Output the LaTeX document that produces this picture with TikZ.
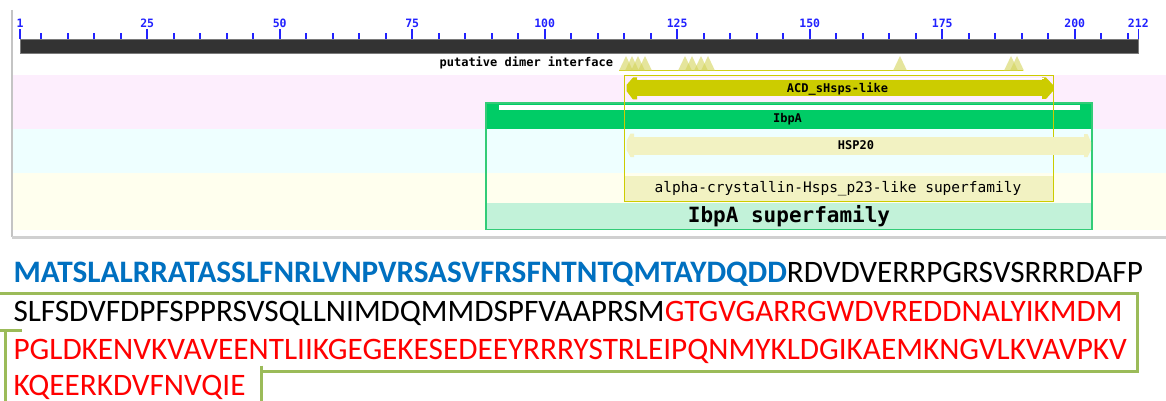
\documentclass[tikz,border=0pt]{standalone}
\usepackage{fontspec}
\newfontfamily\pixfont{DejaVu Sans Mono}
\newfontfamily\seqfont{Carlito}
\definecolor{tickblue}{HTML}{2222FF}
\definecolor{barfill}{HTML}{333333}
\definecolor{barline}{HTML}{7A7A7A}
\definecolor{bandpink}{HTML}{FDEEFD}
\definecolor{bandcyan}{HTML}{EEFFFF}
\definecolor{bandyel}{HTML}{FFFFEE}
\definecolor{acdyel}{HTML}{CCCC00}
\definecolor{hspyel}{HTML}{F2F2C2}
\definecolor{ibpgreen}{HTML}{00CC66}
\definecolor{ibpline}{HTML}{33CC77}
\definecolor{ibpsf}{HTML}{C2F2D9}
\definecolor{trifill}{HTML}{D4D45A}
\definecolor{seqblue}{HTML}{0070C0}
\definecolor{seqred}{HTML}{FF0000}
\definecolor{brkgreen}{HTML}{9BBB59}
\definecolor{frame}{HTML}{C4C4C4}
\begin{document}
\begin{tikzpicture}[x=1pt,y=-1pt,
  every node/.style={inner sep=0pt,outer sep=0pt},
  ticklbl/.style={font=\pixfont\bfseries\fontsize{11.5}{11.5}\selectfont,text=tickblue,anchor=base},
  pixb/.style={font=\pixfont\bfseries\fontsize{12}{12}\selectfont,anchor=base},
  pixr/.style={font=\pixfont\fontsize{14.5}{14.5}\selectfont,anchor=base},
  pixbig/.style={font=\pixfont\bfseries\fontsize{21}{21}\selectfont,anchor=base},
  seqline/.style={font=\seqfont\fontsize{31.25}{31.25}\selectfont,anchor=base west},
  bracket/.style={draw=brkgreen,line width=3pt},
  tickmark/.style={draw=tickblue,line width=1.6pt}]
\useasboundingbox (0,0) rectangle (1166,401);
\fill[white] (0,0) rectangle (1166,401);
% background bands
\fill[bandpink] (12,75) rectangle (1166,129);
\fill[bandcyan] (12,129) rectangle (1166,173);
\fill[bandyel] (12,173) rectangle (1166,230);
\draw[frame,line width=1.2pt] (12,10) -- (12,237);
\draw[frame!80,line width=3pt] (12,237.5) -- (1166,237.5);
% ruler
\foreach \n in {5,10,...,210}
  \draw[tickmark] ({20+(\n-1)*5.3},33.3) -- ({20+(\n-1)*5.3},39.5);
\foreach \n in {1,25,50,75,100,125,150,175,200,212}{
  \draw[tickmark] ({20+(\n-1)*5.3},29) -- ({20+(\n-1)*5.3},39.5);
  \node[ticklbl] (t\n) at ({20+(\n-1)*5.3},27.3) {\n};
}
\draw[draw=barline,fill=barfill,line width=0.8pt] (20,39.3) rectangle (1138.3,53.3);
% putative dimer interface
\node[pixb,anchor=base east] (pdi) at (613,66.5) {putative dimer interface};
\draw[acdyel!90,line width=1.5pt] (619,70.7) -- (1023,70.7);
\foreach \x in {626,632,638,645,685,692,701,708,900,1011,1017}
  \fill[trifill,fill opacity=0.6] (\x-7,70.7) -- (\x,56) -- (\x+7,70.7) -- cycle;
% IbpA
\fill[ibpgreen] (486,103) rectangle (1092,128.5);
\fill[white] (499,105) rectangle (1080,110);
\fill[ibpsf] (486,203) rectangle (1092,229.3);
\draw[ibpline,line width=1.5pt] (486,103) rectangle (1092,229.3);
\node[pixb] (ibpa) at (787.5,123) {IbpA};
\node[pixbig] (ibpsfl) at (789,222.5) {IbpA superfamily};
% alpha-crystallin superfamily box
\fill[hspyel] (624.3,176) rectangle (1053.3,201.5);
\draw[acdyel,line width=1.5pt] (624.3,75.5) rectangle (1053.3,201.5);
% ACD arrow
\fill[acdyel] (636,80) rectangle (1043,96.5);
\fill[acdyel] (637,77.5) -- (633,77.5) -- (626.5,85) -- (626.5,91) -- (633,99.5) -- (637,99.5) -- cycle;
\fill[acdyel] (1042,77.5) -- (1046,77.5) -- (1053,85) -- (1053,91) -- (1046,99) -- (1042,99) -- cycle;
\draw[white,line width=1.2pt] (637,78.8) -- (1044,78.8);
\node[pixb] (acd) at (837.5,92.5) {ACD\_sHsps-like};
% HSP20 arrow
\fill[hspyel] (633,137) rectangle (1085,154.5);
\fill[hspyel] (634,133.5) -- (630.5,133.5) -- (626.5,141) -- (626.5,150) -- (630.5,157) -- (634,157) -- cycle;
\fill[hspyel] (1084,134) -- (1087.5,134) -- (1091,142) -- (1091,150) -- (1087.5,157) -- (1084,157) -- cycle;
\node[pixb] (hsp) at (856,149.3) {HSP20};
\node[pixr] (alpha) at (838,192) {alpha-crystallin-Hsps\_p23-like superfamily};
% sequence
\node[seqline] (l1) at (13.5,282) {\textcolor{seqblue}{\bfseries MATSLALRRATASSLFNRLVNPVRSASVFRSFNTNTQMTAYDQDD}RDVDVERRPGRSVSRRRDAFP};
\node[seqline] (l2) at (13.5,321) {SLFSDVFDPFSPPRSVSQLLNIMDQMMDSPFVAAPRSM\textcolor{seqred}{GTGVGARRGWDVREDDNALYIKMDM}};
\node[seqline,text=seqred] (l3) at (13.5,359) {PGLDKENVKVAVEENTLIIKGEGEKESEDEEYRRRYSTRLEIPQNMYKLDGIKAEMKNGVLKVAVPKV};
\node[seqline,text=seqred] (l4) at (13.5,395) {KQEERKDVFNVQIE};
% green brackets
\coordinate (ba) at (0,293);
\coordinate (bb) at (1137,293);
\coordinate (bc) at (1137,371);
\coordinate (bd) at (261,371);
\draw[bracket,line cap=rect] (ba) -- (bb) -- (bc) -- (bd);
\draw[bracket] (261,365.5) -- (261,401);
\draw[bracket] (0,330) -- (22,330);
\draw[bracket] (5,330) -- (5,401);
\end{tikzpicture}
\end{document}
